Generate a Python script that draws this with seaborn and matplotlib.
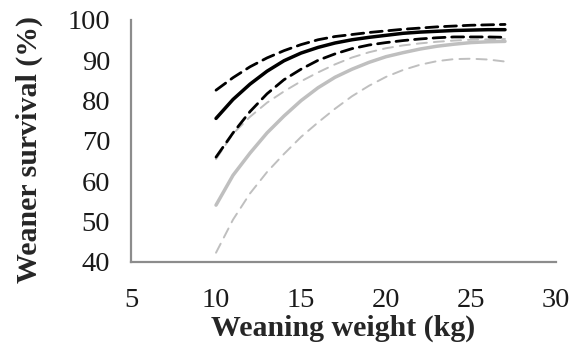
import numpy as np
import pandas as pd
import matplotlib
matplotlib.use("Agg")
import matplotlib.pyplot as plt
import seaborn as sns

weight = [10, 11, 12, 13, 14, 15, 16, 17, 18, 19, 20, 21, 22, 23, 24, 25, 26, 27]

black_mean = [75.6, 80.3, 84.1, 87.3, 89.9, 91.8, 93.2, 94.3, 95.1, 95.7, 96.2, 96.7, 97.0, 97.2, 97.4, 97.5, 97.6, 97.6]
black_upper = [82.6, 85.7, 88.4, 90.6, 92.4, 93.9, 95.1, 95.9, 96.4, 96.9, 97.3, 97.7, 98.0, 98.3, 98.5, 98.7, 98.8, 98.9]
black_lower = [66.0, 72.0, 77.3, 81.7, 85.2, 87.8, 90.0, 91.6, 92.9, 93.8, 94.4, 94.9, 95.3, 95.6, 95.8, 95.8, 95.8, 95.7]

grey_mean = [54.1, 61.5, 67.0, 72.0, 76.2, 80.0, 83.2, 85.8, 87.8, 89.5, 90.9, 91.9, 92.8, 93.5, 94.0, 94.4, 94.6, 94.7]
grey_upper = [65.5, 71.8, 76.0, 79.5, 82.3, 84.8, 87.0, 89.0, 90.7, 92.0, 93.0, 93.7, 94.2, 94.6, 94.9, 95.1, 95.2, 95.3]
grey_lower = [42.3, 50.5, 57.0, 62.3, 66.8, 71.0, 74.6, 78.0, 81.1, 83.7, 85.9, 87.6, 88.9, 89.8, 90.3, 90.4, 90.2, 89.7]

x_ticks = [5, 10, 15, 20, 25, 30]
y_ticks = [40, 50, 60, 70, 80, 90, 100]

sns.set_style("white")
plt.rcParams['font.family'] = ['Liberation Serif', 'DejaVu Serif']

fig = plt.figure(figsize=(5.81, 3.49), dpi=100)
ax = fig.add_axes([0.2255, 0.2493, 0.957 - 0.2255, 0.9427 - 0.2493])

grey = "#bfbfbf"
series = [
    (grey_lower, grey, 1.4, (0, (5.2, 3.6))),
    (grey_upper, grey, 1.4, (0, (5.2, 3.6))),
    (grey_mean, grey, 2.5, "-"),
    (black_lower, "black", 2.0, (0, (4.3, 2.4))),
    (black_upper, "black", 2.0, (0, (4.3, 2.4))),
    (black_mean, "black", 2.5, "-"),
]
for vals, col, lw, ls in series:
    df = pd.DataFrame({"w": weight, "s": vals})
    sns.lineplot(data=df, x="w", y="s", ax=ax, color=col, linewidth=lw,
                 linestyle=ls, solid_capstyle="round", dash_capstyle="round")

ax.set_xlim(5, 30)
ax.set_ylim(40, 100)
ax.set_xticks(x_ticks)
ax.set_yticks(y_ticks)
ax.set_xticklabels([str(v) for v in x_ticks])
ax.set_yticklabels([str(v) for v in y_ticks])

for s in ["top", "right"]:
    ax.spines[s].set_visible(False)
for s in ["left", "bottom"]:
    ax.spines[s].set_color("#8c8c8c")
    ax.spines[s].set_linewidth(1.6)
ax.tick_params(axis="both", direction="out", length=5, width=1.6, color="#8c8c8c",
               labelsize=20.5, labelcolor="#1a1a1a")
ax.tick_params(axis="x", pad=14)
ax.tick_params(axis="y", pad=10)

ax.set_xlabel("Weaning weight (kg)", fontsize=21.5, fontweight="bold", labelpad=1)
ax.set_ylabel("Weaner survival (%)", fontsize=21.5, fontweight="bold")
ax.yaxis.set_label_coords(-0.207, 0.463)

fig.savefig("out.png", dpi=100)
